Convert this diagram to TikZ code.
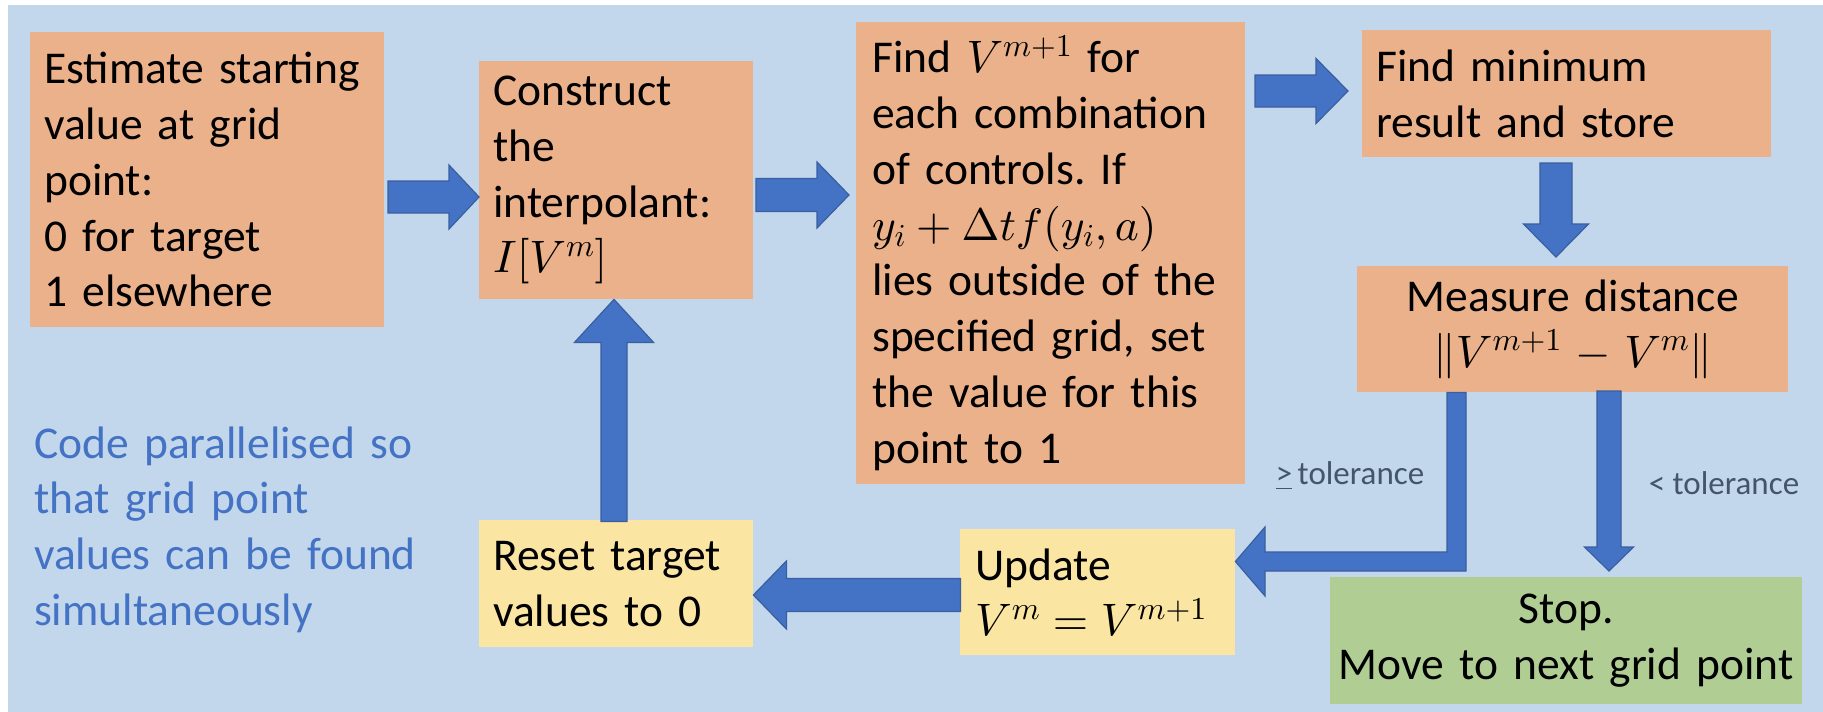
\documentclass[tikz,border=0pt]{standalone}
\usepackage{fontspec}
\setmainfont{Carlito}
\DeclareFontShape{OML}{cmm}{m}{it}{<->cmmi10}{}
\DeclareFontShape{OMS}{cmsy}{m}{n}{<->cmsy10}{}
\DeclareFontShape{OT1}{cmr}{m}{n}{<->cmr10}{}
\DeclareFontShape{OMX}{cmex}{m}{n}{<->cmex10}{}
\usetikzlibrary{calc}
\frenchspacing
\definecolor{bgblue}{HTML}{C2D7EC}
\definecolor{boxorange}{HTML}{EBB18A}
\definecolor{boxyellow}{HTML}{FBE5A2}
\definecolor{boxgreen}{HTML}{B0CE94}
\definecolor{arrfill}{HTML}{4472C4}
\definecolor{arredge}{HTML}{3A5F9F}
\definecolor{notetext}{HTML}{4472C4}
\definecolor{tolcol}{HTML}{44546A}
\newcommand\bigfont{\fontsize{45.5}{55.8}\selectfont}
\newcommand\tolfont{\fontsize{33}{40}\selectfont}
% tip, angle, length, shaft half width, head half width, head length
\newcommand\blockarrow[6]{%
  \filldraw[barrow,shift={#1},rotate=#2] (0,0) -- (-#6,#5) -- (-#6,#4) -- (-#3,#4)
    -- (-#3,-#4) -- (-#6,-#4) -- (-#6,-#5) -- cycle;}
\begin{document}
\begin{tikzpicture}[x=1pt,y=-1pt,
  box/.style={rectangle, anchor=north west, inner xsep=14pt, inner ysep=0pt,
    font=\bigfont, align=left},
  boxsize/.style n args={3}{minimum width=#1pt, minimum height=#2pt, text width=#1pt-#3pt},
  orange/.style={fill=boxorange},
  yellow/.style={fill=boxyellow},
  green/.style={fill=boxgreen},
  barrow/.style={fill=arrfill, draw=arredge, line width=1.2pt, line join=miter},
  note/.style={inner sep=0pt, font=\bigfont, text=notetext, align=left, text width=420pt, anchor=base west},
  tol/.style={inner sep=0pt, font=\tolfont, text=tolcol}]
\useasboundingbox (0,0) rectangle (1823,712);
\fill[white] (0,0) rectangle (1823,712);
\fill[bgblue] (8,5) rectangle (1823,712);

\node[box, orange, boxsize={354}{295}{28}] (b1) at (30,32)
  {Estimate starting\\value at grid\\point:\\0 for target\\1 elsewhere};
\node[box, orange, boxsize={274}{238}{28}] (b2) at (479,61)
  {Construct\\the\\interpolant:\\$I[V^m]$};
\node[box, orange, inner xsep=16pt, boxsize={389}{462}{32}] (b3) at (856,22)
  {Find $V^{m+1}$ for\\each combination\\of controls. If\\$y_i+\Delta t f(y_i,a)$\\lies outside of the\\specified grid, set\\the value for this\\point to 1};
\node[box, orange, boxsize={409}{127}{28}] (b4) at (1362,30)
  {Find minimum\\result and store};
\node[box, orange, align=center, boxsize={431}{126}{28}] (b5) at (1357,266)
  {Measure distance\\$\|V^{m+1}-V^m\|$};
\node[box, yellow, boxsize={274}{127}{28}] (b6) at (479,520)
  {Reset target\\values to 0};
\node[box, yellow, inner xsep=15pt, boxsize={275}{126}{30}] (b7) at (960,529)
  {Update\\$V^m=V^{m+1}$};
\node[box, green, align=center, inner xsep=2pt, boxsize={472}{127}{4}] (b8) at (1330,577)
  {Stop.\\Move to next grid point};

\node[note] (note) at (34,458)
  {Code parallelised so\\that grid point\\values can be found\\simultaneously};
\node[tol] (tge) at (1350,476) {\underline{>}\,tolerance};
\node[tol] (tlt) at (1724,483) {< tolerance};

% arrows
\blockarrow{(b2.west |- 0,197)}{0}{91}{16}{32}{30}
\blockarrow{($(b3.west |- 0,195)+(-7,0)$)}{0}{93}{16.5}{33}{32}
\blockarrow{($(b4.west |- 0,91)+(-14,0)$)}{0}{93}{16}{32.5}{32}
\blockarrow{($(1556,0 |- b5.north)+(0,-9)$)}{-90}{94}{16}{32.5}{33}
\blockarrow{(614,0 |- b2.south)}{90}{222}{13}{39.5}{43}
\blockarrow{(b6.east |- 0,595)}{180}{207}{16.5}{34}{33}
\blockarrow{($(1609,0 |- b8.north)+(0,-6)$)}{-90}{180}{12}{24.5}{24}
\filldraw[barrow] (1447,0 |- b5.south) -- (1466,0 |- b5.south) -- (1466,571) -- (1265,571)
  -- (1265,596) -- (b7.east |- 0,561.5) -- (1265,527) -- (1265,552) -- (1447,552) -- cycle;
\end{tikzpicture}
\end{document}
